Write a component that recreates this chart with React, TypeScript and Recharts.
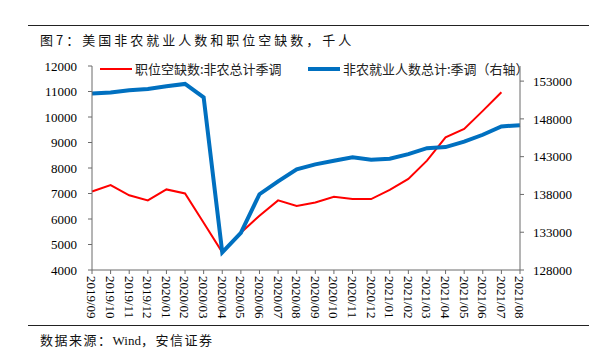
import React from "react";
import { LineChart, Line, XAxis, YAxis } from "recharts";

const months = [
  "2019/09", "2019/10", "2019/11", "2019/12", "2020/01", "2020/02", "2020/03", "2020/04",
  "2020/05", "2020/06", "2020/07", "2020/08", "2020/09", "2020/10", "2020/11", "2020/12",
  "2021/01", "2021/02", "2021/03", "2021/04", "2021/05", "2021/06", "2021/07", "2021/08",
];

// 职位空缺数:非农总计季调 (left axis)
const openings = [
  7080, 7330, 6930, 6730, 7160, 7000, 5850, 4690,
  5460, 6130, 6730, 6510, 6650, 6870, 6780, 6780,
  7140, 7570, 8290, 9200, 9530, 10240, 10970, null,
];

// 非农就业人数总计:季调 (right axis)
const payrolls = [
  151350, 151480, 151790, 151970, 152310, 152630, 150860, 130330,
  132920, 138030, 139740, 141320, 141980, 142470, 142910, 142600,
  142730, 143340, 144130, 144270, 144980, 145900, 147000, 147170,
];

const leftTicks = [4000, 5000, 6000, 7000, 8000, 9000, 10000, 11000, 12000];
const rightTicks = [128000, 133000, 138000, 143000, 148000, 153000];

const data = months.map((m, i) => ({ month: m, openings: openings[i], payrolls: payrolls[i] }));

const serif = "'Liberation Serif', 'DejaVu Serif', serif";
const cjk = "'Noto Sans CJK SC', 'Liberation Serif', sans-serif";
const axisColor = "#6b6b6b";

const MonthTick = (props: any) => {
  const { x, y, payload } = props;
  return (
    <text
      x={0}
      y={0}
      transform={`translate(${x},${y}) rotate(90)`}
      textAnchor="start"
      dy="0.35em"
      fontFamily={serif}
      fontSize={13}
      fill="#000"
    >
      {payload.value}
    </text>
  );
};

export default function App() {
  return (
    <div style={{ position: "fixed", left: 0, top: 0, width: 601, height: 362, background: "#fff" }}>
      <div style={{ position: "absolute", left: 28, top: 25, width: 561, height: 0, borderTop: "1.5px solid #222" }} />
      <div
        style={{
          position: "absolute", left: 40, top: 31, fontFamily: cjk, fontSize: 13,
          letterSpacing: 3, lineHeight: "18px", color: "#111", whiteSpace: "nowrap",
        }}
      >
        图7：美国非农就业人数和职位空缺数，千人
      </div>

      <LineChart width={601} height={362} data={data} margin={{ top: 66, right: 11, bottom: 42, left: 0 }}>
        <XAxis
          dataKey="month"
          interval={0}
          height={50}
          tick={<MonthTick />}
          tickSize={4}
          tickMargin={2}
          stroke={axisColor}
          tickLine={{ stroke: axisColor }}
        />
        <YAxis
          yAxisId="left"
          orientation="left"
          width={92}
          domain={[4000, 12000]}
          ticks={leftTicks}
          interval={0}
          tickSize={4}
          tickMargin={11}
          stroke={axisColor}
          tick={{ fill: "#000", fontFamily: serif, fontSize: 13 }}
        />
        <YAxis
          yAxisId="right"
          orientation="right"
          width={70}
          domain={[128000, 155000]}
          ticks={rightTicks}
          interval={0}
          tickSize={4}
          tickMargin={9}
          stroke={axisColor}
          tick={{ fill: "#000", fontFamily: serif, fontSize: 13, textAnchor: "start" }}
        />
        <Line
          yAxisId="left"
          dataKey="openings"
          stroke="#ff0000"
          strokeWidth={2}
          dot={false}
          type="linear"
          isAnimationActive={false}
        />
        <Line
          yAxisId="right"
          dataKey="payrolls"
          stroke="#0070c0"
          strokeWidth={4}
          dot={false}
          type="linear"
          isAnimationActive={false}
        />
      </LineChart>

      <div style={{ position: "absolute", left: 100, top: 59, display: "flex", alignItems: "center", fontFamily: cjk, fontSize: 13, color: "#222", whiteSpace: "nowrap" }}>
        <span style={{ display: "inline-block", width: 32, height: 0, borderTop: "2px solid #ff0000", marginRight: 3 }} />
        <span>职位空缺数:非农总计季调</span>
      </div>
      <div style={{ position: "absolute", left: 308, top: 59, display: "flex", alignItems: "center", fontFamily: cjk, fontSize: 13, color: "#222", whiteSpace: "nowrap" }}>
        <span style={{ display: "inline-block", width: 32, height: 0, borderTop: "4px solid #0070c0", marginRight: 3 }} />
        <span>非农就业人数总计:季调（右轴）</span>
      </div>

      <div style={{ position: "absolute", left: 28, top: 325, width: 561, height: 0, borderTop: "1.5px solid #222" }} />
      <div
        style={{
          position: "absolute", left: 40, top: 331, fontFamily: cjk, fontSize: 13,
          letterSpacing: 1.5, lineHeight: "18px", color: "#111", whiteSpace: "nowrap",
        }}
      >
        数据来源：<span style={{ fontFamily: serif, letterSpacing: 0 }}>Wind</span>，安信证券
      </div>
    </div>
  );
}
